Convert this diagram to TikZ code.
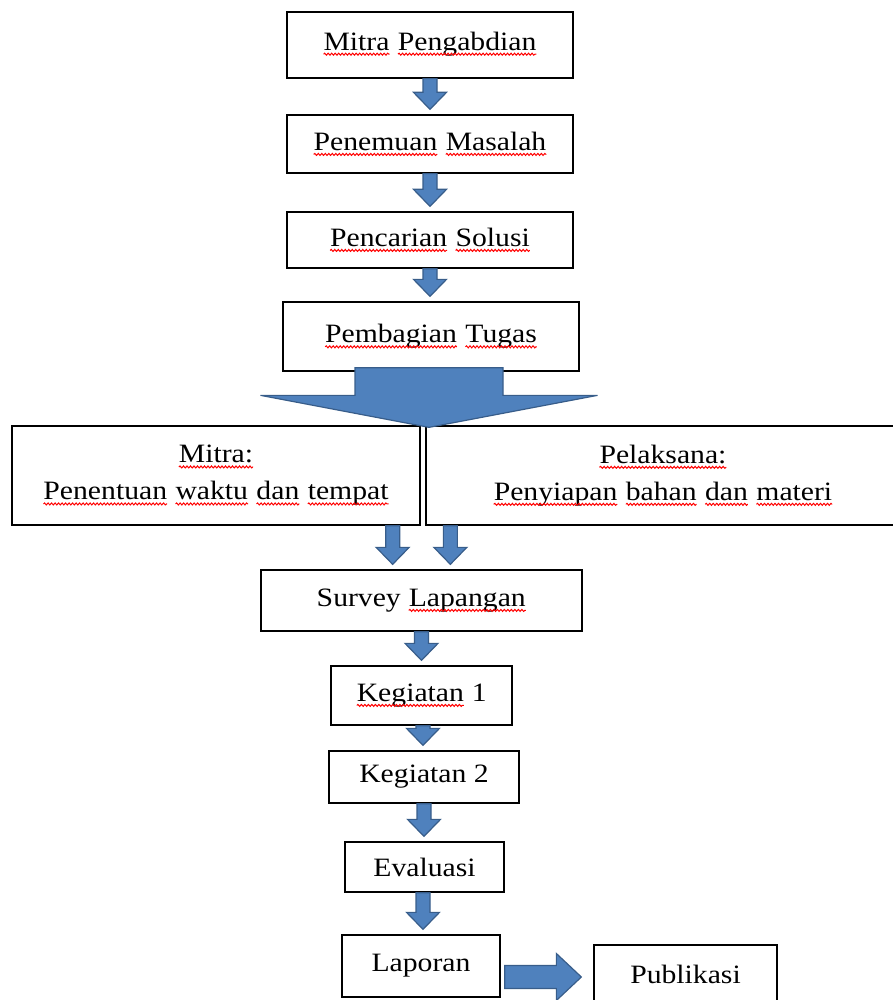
\documentclass[tikz,border=0pt]{standalone}
\usepackage{fontspec}
\setmainfont{Liberation Serif}[FakeStretch=1.12]
\usetikzlibrary{calc,decorations.pathmorphing}
\definecolor{arrowblue}{RGB}{79,129,189}
\definecolor{arrowedge}{RGB}{56,93,138}
\tikzset{
  box/.style={draw, line width=1.3pt, align=center, inner sep=0pt,
    font=\fontsize{26.5}{37}\selectfont},
  wave/.style={draw=red, line width=1pt, decorate,
    decoration={snake, amplitude=1pt, segment length=3.5pt}},
  barrow/.style={fill=arrowblue, draw=arrowedge, line width=1.2pt},
  blockdown/.style n args={4}{to path={let \p1=(\tikztostart), \p2=(\tikztotarget) in
    (\x1-#1pt,\y1) -- (\x1+#1pt,\y1) -- (\x1+#1pt,\y2+#4pt+#3pt) -- (\x1+#2pt,\y2+#4pt+#3pt)
    -- (\x1,\y2+#4pt) -- (\x1-#2pt,\y2+#4pt+#3pt) -- (\x1-#1pt,\y2+#4pt+#3pt) -- cycle}},
  sarrow/.style={blockdown={7}{16.5}{17}{5}},
  blockright/.style n args={3}{to path={let \p1=(\tikztostart), \p2=(\tikztotarget) in
    (\x1+4pt,\y2+#1pt) -- (\x2-12pt-#3pt,\y2+#1pt) -- (\x2-12pt-#3pt,\y2+#2pt) -- (\x2-12pt,\y2)
    -- (\x2-12pt-#3pt,\y2-#2pt) -- (\x2-12pt-#3pt,\y2-#1pt) -- (\x1+4pt,\y2-#1pt) -- cycle}}
}
\newcommand{\wavy}[1]{\tikz[baseline=(w.base)]{\node[draw=none, inner sep=0pt, outer sep=0pt,
  minimum width=0pt, minimum height=0pt, anchor=base] (w) at (0,0) {#1};
  \draw[wave] ([yshift=-4pt]w.base west) -- ([yshift=-4pt]w.base east);}}
\begin{document}
\begin{tikzpicture}[x=1pt,y=-1pt]
\clip (0,0) rectangle (893,1000);
\useasboundingbox (0,0) rectangle (893,1000);
\node[box, minimum width=286, minimum height=66] (mp) at (430,45) {\raisebox{8pt}{\wavy{Mitra} \wavy{Pengabdian}}};
\node[box, minimum width=286, minimum height=58] (pm) at (430,144) {\wavy{Penemuan} \wavy{Masalah}};
\node[box, minimum width=286, minimum height=56] (ps) at (430,240) {\wavy{Pencarian} \wavy{Solusi}};
\node[box, minimum width=296, minimum height=69] (pt) at (431,336.5) {\wavy{Pembagian} \wavy{Tugas}};
\node[box, minimum width=408, minimum height=99] (mt) at (216,475.5) {\wavy{Mitra:}\\\wavy{Penentuan} \wavy{waktu} \wavy{dan} \wavy{tempat}};
\node[box, minimum width=474, minimum height=99] (pl) at (663,475.5) {\wavy{Pelaksana:}\\\wavy{Penyiapan} \wavy{bahan} \wavy{dan} \wavy{materi}};
\node[box, minimum width=321, minimum height=61] (sv) at (421.5,600.5) {Survey \wavy{Lapangan}};
\node[box, minimum width=181, minimum height=59] (k1) at (421.5,695.5) {\wavy{Kegiatan} 1};
\node[box, minimum width=190, minimum height=52] (k2) at (424,777) {Kegiatan 2};
\node[box, minimum width=159, minimum height=50] (ev) at (424.5,867) {Evaluasi};
\node[box, minimum width=158, minimum height=62] (lp) at (421,966) {Laporan};
\node[box, minimum width=183, minimum height=64] (pb) at (685.5,977) {\raisebox{6pt}{Publikasi}};
\coordinate (split) at ($(mt.north east)!0.5!(pl.north west)$);
\draw[barrow] (mp.south) to[sarrow] (pm.north);
\draw[barrow] (pm.south) to[sarrow] (ps.north);
\draw[barrow] (ps.south) to[sarrow] (pt.north);
\draw[barrow] ([xshift=-2pt,yshift=4pt]pt.south) to[blockdown={74}{168.5}{32}{-2}] (split);
\draw[barrow] ([xshift=-28pt]mt.south east) to[sarrow] (sv.north);
\draw[barrow] ([xshift=25pt]pl.south west) to[sarrow] (sv.north);
\draw[barrow] (sv.south) to[sarrow] (k1.north);
\draw[barrow] ([xshift=1.5pt]k1.south) to[sarrow] (k2.north);
\draw[barrow] (k2.south) to[sarrow] (ev.north);
\draw[barrow] ([xshift=-1.5pt]ev.south) to[sarrow] (lp.north);
\draw[barrow] (lp.east) to[blockright={11.5}{23.5}{25}] (pb.west);
\end{tikzpicture}
\end{document}
